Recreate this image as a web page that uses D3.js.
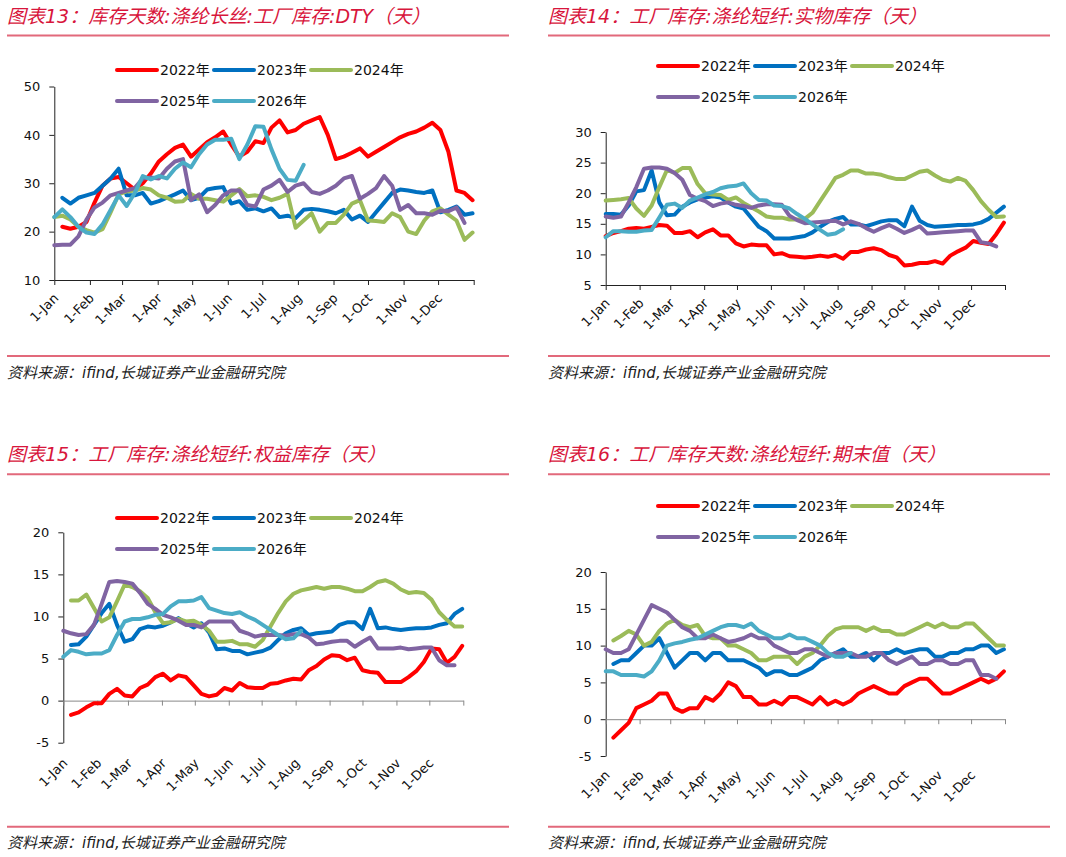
<!DOCTYPE html>
<html>
<head>
<meta charset="utf-8">
<script src="https://cdn.jsdelivr.net/npm/d3@7"></script>
<style>
  body { margin: 0; background: #fff; }
  svg text { font-family: "DejaVu Sans", "Noto Sans CJK SC", sans-serif; }
</style>
</head>
<body>
<div id="content"></div>
<script>
// month tick labels and their day offsets
const monthLabels = ["1-Jan","1-Feb","1-Mar","1-Apr","1-May","1-Jun","1-Jul","1-Aug","1-Sep","1-Oct","1-Nov","1-Dec"];
const monthDays = [0,31,59,90,120,151,181,212,243,273,304,334];
const yearNames = ["2022年","2023年","2024年","2025年","2026年"];
const yearColors = ["#ff0000","#0070c0","#9bbb59","#8064a2","#4bacc6"];

// weekly values; each series starts at the week given in its *Start array
// 图表13 DTY
const dtyStart = [1, 1, 0, 0, 0];
const dty2022 = [21,20.6,21,22,26,29.5,31,31.3,30,28.7,30,32,34.5,36,37.3,38,35.5,37,38.5,39.5,40.7,38,35.5,36.5,38.7,38.3,41.5,43,40.5,41,42.3,43,43.7,40,35,35.5,36.3,37.2,35.5,36.5,37.5,38.5,39.5,40.2,40.7,41.5,42.5,41,36.5,28.5,28,26.5];
const dty2023 = [27,25.8,27,27.5,28,29.5,31,33,27.5,27.5,28,25.8,26.3,27,27.7,28.5,26.5,27,28.7,29,29.2,25.8,26.3,24.5,24.8,24.2,24.8,23,23.3,22.8,24.5,24.7,24.5,24.2,23.8,24.5,22.5,23.3,22,24,26,28,28.7,28.5,28.2,28,28.5,24,24.5,25.2,23.5,23.8];
const dty2024 = [23,23.3,22.5,21,20.3,19.8,20.5,24,27.7,28.3,28.5,29,28.7,27.5,27,26.2,26.3,27.8,26.8,26.8,26.5,26.2,27.5,28.8,27.3,27.5,27.2,26.5,27,27.8,20.8,22.3,23.8,20,21.8,21.8,23.5,25.8,26.5,22.3,22.2,22,23.8,23,20,19.5,22.3,24.2,24.8,23.5,22.3,18.3,19.8];
const dty2025 = [17.2,17.3,17.3,19,22.5,25,26,27.5,28,28.5,29,31,31.2,31,33,34.5,35,26.5,27.7,24,25.5,27.5,28.5,28.5,25.5,25.2,28.7,29.5,30.7,28.2,29.5,30,28.2,27.8,28.5,29.5,31,31.5,26.8,27.8,29,31.5,29.5,24.5,25.5,23.8,23.8,23.5,24.3,24.2,25,21.8];
const dty2026 = [23,24.6,23,21,19.8,19.5,21.5,24.5,27.5,25.3,28,31.5,30.8,31.5,31,33,34.3,33.3,36,38,39,39,39.2,35,38,41.8,41.7,37,33,30.7,30.5,33.8];

// 图表14 短纤实物库存
const physStart = [0, 0, 0, 0, 0];
const phys2022 = [13,13.5,13.8,14.2,14.3,14.2,14.5,14.8,14.7,13.5,13.5,13.8,12.8,13.6,14.1,13.1,13.1,11.8,11.3,11.6,11.5,11.5,10,10.2,9.7,9.6,9.5,9.6,9.8,9.6,9.9,9.3,10.4,10.4,10.8,11,10.7,9.9,9.5,8.2,8.3,8.6,8.6,8.9,8.5,9.8,10.5,11.1,12.2,11.9,11.7,13.3,15.2];
const phys2023 = [16.6,16.6,16.5,18,20.3,20.5,23.7,18.5,16.4,16.5,17.8,18.5,19,19.3,19.5,19.3,18.5,17.8,17.5,16,14.5,13.8,12.6,12.6,12.6,12.8,13,13.6,14.5,15.3,15.8,16.1,14.9,14.9,14.6,15,15.4,15.6,15.6,14.6,17.8,15.5,14.8,14.5,14.6,14.7,14.8,14.8,14.9,15.2,15.8,16.8,17.8];
const phys2024 = [18.8,18.9,19,19.2,17.5,16.3,18,21,23.8,23.3,24.1,24.1,21.5,20,19.8,19.7,18.9,19.3,18.4,17.7,17,16.2,16,16,15.7,15.7,15.8,16.8,18.7,20.6,22.5,23,23.7,23.7,23.2,23.2,23,22.6,22.3,22.3,22.9,23.5,23.7,22.9,22.2,21.9,22.5,22,20.5,18.7,17.3,16.1,16.2];
const phys2025 = [16.2,16,16.2,18.5,21,24,24.2,24.2,24,23.3,22.2,19.7,19.1,18.7,17.9,18.3,18.5,18.1,17.9,17.6,18,18.2,18.2,18.1,16.3,15.6,15.1,15.2,15.3,15.4,15.5,14.9,15.4,15,14.3,13.7,14.3,14.8,14.2,13.5,14,14.6,13.4,13.5,13.6,13.7,13.8,13.9,13.9,12,11.8,11.3];
const phys2026 = [12.8,13.8,13.8,13.7,13.7,13.9,14,16,18.1,18.3,17.6,18.8,19.3,19.8,20.2,20.8,21.1,21.2,21.6,20,18.9,18.8,18,17.9,17.5,16.6,15.8,14.9,14,13.2,13.4,14.1];

// 图表15 短纤权益库存
const equStart = [1, 1, 1, 0, 0];
const equ2022 = [-1.7,-1.4,-0.8,-0.3,-0.3,0.8,1.4,0.6,0.5,1.5,1.9,2.8,3.2,2.4,3,2.8,1.8,0.8,0.5,0.7,1.5,1.2,2.1,1.6,1.5,1.5,2,2.1,2.4,2.6,2.5,3.6,4.1,4.9,5.4,5.3,4.8,5.1,3.6,3.4,3.3,2.2,2.2,2.2,2.8,3.5,4.6,6.2,6.1,4.5,5.2,6.5];
const equ2023 = [6.6,6.7,7.6,9,10.4,11.5,9,7,7.3,8.5,8.8,8.7,8.9,9.3,9.8,9.2,8.7,9.2,8.1,6.1,6.2,5.9,5.9,5.5,5.7,5.9,6.3,7.2,8,8.4,8.6,7.8,8,8.1,8.2,9,9.3,9.3,8.5,10.9,8.6,8.7,8.5,8.4,8.5,8.6,8.6,8.7,9,9.2,10.3,10.9];
const equ2024 = [11.9,11.9,12.6,11,9.4,9.9,11.8,13.8,13.5,13,12.2,10.5,9.2,9.3,9.7,9.4,9.5,9,8.3,7,7,7.1,6.7,6.7,6.4,7.2,8.8,10.4,11.8,12.7,13.1,13.3,13.5,13.3,13.5,13.5,13.3,13,13,13.5,14.1,14.3,13.9,13.2,12.8,12.9,12.8,12,10.5,9.6,8.8,8.8];
const equ2025 = [8.3,8,7.8,7.9,9,11.5,14.1,14.2,14.1,13.9,12.8,11.5,10.9,10.2,9.9,9.5,9,9,8.7,9.4,9.4,9.4,9.4,8.3,8,7.6,7.8,7.8,7.8,7.7,7.9,7.9,7.5,6.7,6.8,7,7.1,7.1,6.4,7,7.5,6.2,6.2,6.2,6.3,6.1,6.2,6.3,6.3,4.8,4.2,4.2];
const equ2026 = [5.2,6,5.8,5.5,5.6,5.6,6,7.8,9.4,9.7,9.7,9.9,10.2,10.3,11.2,11.8,11.8,11.9,12.3,11,10.7,10.4,10.3,10.5,10,9.6,9,8.4,7.8,7.3,7.4,8.3];

// 图表16 短纤期末值
const endStart = [1, 1, 1, 0, 0];
const end2022 = [-2.5,-1.5,-0.5,1.5,2,2.5,3.5,3.5,1.5,1,1.5,1.5,3,2.5,3.5,5,4.5,3,3,2,2,2.5,2,3,3,2.5,2,3,2,2.5,2,2.5,3.5,4,4.5,4,3.5,3.5,4.5,5,5.5,5.5,4.5,3.5,3.5,4,4.5,5,5.5,5,5.5,6.5];
const end2023 = [7.5,8,8,9,10,10,11,9,7,8,9,9,8,9,9,8,8,8,7.5,7,6,6.5,6.5,6,6,6.5,7,8,8.5,9,9.5,8.5,8.5,9,8,9,9,9.5,9,9.25,9.5,9.5,8.5,8.5,9,9,9.5,9.5,10,10,9,9.5];
const end2024 = [10.7,11.3,12,11.5,10,10.5,12,13,13.5,12.8,12.5,12.8,11.3,11,11,10,10,9.5,9,8,8,8.5,8.5,8.5,7.5,8.5,9,10,11.3,12.2,12.5,12.5,12.5,12,12.5,12,12,11.5,11.5,12,12.5,13,12.5,13,12.5,12.5,13,13,12,11,10,10];
const end2025 = [9.5,9,9,9.5,11.5,13.5,15.5,15,14.5,13.5,12.5,12,11,11,11.5,11,10.5,10.7,11,11.5,11,11,10,9.5,9,9,9.5,9.5,9,8.5,9,9,9,8.5,8.5,9,9,8,7.5,8,8.5,7.5,7.5,8,8,7.5,7.5,8,8,6,6,5.5];
const end2026 = [6.5,6.5,6,6,6,5.8,6.5,8,10,10.3,10.5,10.8,11,11.5,12,12.5,12.8,12.8,12.5,13,12,11.5,11,11,11.5,11,11,10.5,10,9,8.5,8.5,9];

const W = 1066, H = 857;
const svg = d3.select("#content").append("svg").attr("width", W).attr("height", H);

const panels = [
  { title: "图表13：库存天数:涤纶长丝:工厂库存:DTY（天）", series: [dty2022,dty2023,dty2024,dty2025,dty2026], start: dtyStart,
    left: 7, right: 509, titleY: 23, ruleY: 35.5, footY: 356, srcY: 378,
    x0: 54.3, x1: 473.7, yDom: [10,50], yB: 280, yT: 86.5, yTicks: [10,20,30,40,50],
    legX: 117, legY: 70, axisAt: 10, labelY: 299 },
  { title: "图表14：工厂库存:涤纶短纤:实物库存（天）", series: [phys2022,phys2023,phys2024,phys2025,phys2026], start: physStart,
    left: 548, right: 1050, titleY: 23, ruleY: 35.5, footY: 356, srcY: 378,
    x0: 605.7, x1: 1005, yDom: [5,30], yB: 285, yT: 132, yTicks: [5,10,15,20,25,30],
    legX: 658, legY: 66, axisAt: 5, labelY: 304 },
  { title: "图表15：工厂库存:涤纶短纤:权益库存（天）", series: [equ2022,equ2023,equ2024,equ2025,equ2026], start: equStart,
    left: 7, right: 509, titleY: 461, ruleY: 474.3, footY: 826.7, srcY: 848,
    x0: 63.3, x1: 463.3, yDom: [-5,20], yB: 742.7, yT: 532.3, yTicks: [-5,0,5,10,15,20],
    legX: 117, legY: 518, axisAt: 0, labelY: 764 },
  { title: "图表16：工厂库存天数:涤纶短纤:期末值（天）", series: [end2022,end2023,end2024,end2025,end2026], start: endStart,
    left: 548, right: 1050, titleY: 461, ruleY: 474.3, footY: 826.7, srcY: 848,
    x0: 605.7, x1: 1005, yDom: [-5,20], yB: 756, yT: 572, yTicks: [-5,0,5,10,15,20],
    legX: 658, legY: 506, axisAt: 0, labelY: 776 }
];

panels.forEach(p => {
  const g = svg.append("g");

  g.append("text").attr("x", p.left).attr("y", p.titleY)
    .attr("font-size", 19).attr("font-style", "italic").attr("fill", "#d8163c")
    .text(p.title);
  g.append("line").attr("x1", p.left).attr("x2", p.right).attr("y1", p.ruleY).attr("y2", p.ruleY)
    .attr("stroke", "#e2697b").attr("stroke-width", 2);
  g.append("line").attr("x1", p.left).attr("x2", p.right).attr("y1", p.footY).attr("y2", p.footY)
    .attr("stroke", "#e2697b").attr("stroke-width", 2);
  g.append("text").attr("x", p.left).attr("y", p.srcY)
    .attr("font-size", 15).attr("font-style", "italic").attr("fill", "#222")
    .text("资料来源：ifind,长城证券产业金融研究院");

  const x = d3.scaleLinear().domain([0, 365]).range([p.x0, p.x1]);
  const y = d3.scaleLinear().domain(p.yDom).range([p.yB, p.yT]);

  // y axis (plain hyphen for negatives, like the source)
  const ya = g.append("g").attr("transform", `translate(${p.x0},0)`)
    .call(d3.axisLeft(y).tickValues(p.yTicks).tickSize(5).tickSizeOuter(0).tickPadding(9)
      .tickFormat(d => String(d)));
  ya.select(".domain").attr("stroke", "#222");
  ya.selectAll(".tick line").attr("stroke", "#222");
  ya.selectAll(".tick text").attr("font-size", 13).attr("fill", "#111")
    .style("font-family", "DejaVu Sans");

  // x axis
  const axisColor = p.axisAt === p.yDom[0] ? "#222" : "#888";
  const xa = g.append("g").attr("transform", `translate(0,${y(p.axisAt)})`)
    .call(d3.axisBottom(x).tickValues(monthDays.concat([365])).tickSize(5).tickSizeOuter(0).tickFormat(""));
  xa.select(".domain").attr("stroke", axisColor);
  xa.selectAll(".tick line").attr("stroke", axisColor);

  g.selectAll(".mlab").data(monthLabels).enter().append("text")
    .attr("class", "mlab")
    .attr("text-anchor", "end")
    .attr("font-size", 13).attr("fill", "#111")
    .attr("transform", (d, i) => `translate(${x(monthDays[i]) + 5},${p.labelY}) rotate(-45)`)
    .text(d => d);

  // lines
  const line = d3.line().x(d => x(d[0] * 7)).y(d => y(d[1])).curve(d3.curveLinear);
  p.series.forEach((vals, si) => {
    const pts = vals.map((v, i) => [p.start[si] + i, v]);
    g.append("path").datum(pts).attr("d", line)
      .attr("fill", "none").attr("stroke", yearColors[si])
      .attr("stroke-width", 4).attr("stroke-linejoin", "round").attr("stroke-linecap", "round");
  });

  // legend
  yearNames.forEach((name, i) => {
    const lx = p.legX + (i % 3) * 97;
    const ly = p.legY + Math.floor(i / 3) * 31;
    g.append("line").attr("x1", lx).attr("x2", lx + 40).attr("y1", ly).attr("y2", ly)
      .attr("stroke", yearColors[i]).attr("stroke-width", 4).attr("stroke-linecap", "round");
    g.append("text").attr("x", lx + 43).attr("y", ly).attr("dy", "0.36em")
      .attr("font-size", 14).attr("fill", "#111").text(name);
  });
});
</script>
</body>
</html>
